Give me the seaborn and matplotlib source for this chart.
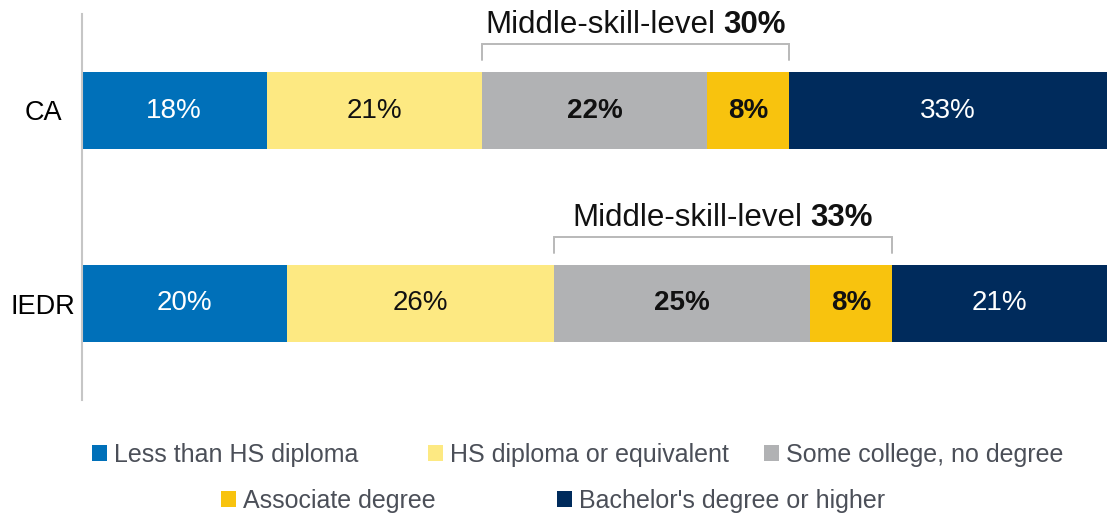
import matplotlib
matplotlib.use("Agg")
import matplotlib.pyplot as plt
from matplotlib.patches import Patch
import seaborn as sns
import pandas as pd
import numpy as np

# Educational attainment shares (percent) by region
regions = ["CA", "IEDR"]
levels = [
    "Less than HS diploma",
    "HS diploma or equivalent",
    "Some college, no degree",
    "Associate degree",
    "Bachelor's degree or higher",
]
ca_pct = [18, 21, 22, 8, 33]
iedr_pct = [20, 26, 25, 8, 21]
middle_skill_pct = [30, 33]

colors = ["#0070b9", "#fde982", "#b1b2b4", "#f8c30e", "#002b5c"]
label_colors = ["white", "#111111", "#111111", "#111111", "white"]
label_weights = ["normal", "normal", "bold", "bold", "normal"]

sns.set_theme(style="white")
plt.rcParams["font.family"] = ["Liberation Sans", "DejaVu Sans"]

W, H = 1107, 514
fig = plt.figure(figsize=(W / 100, H / 100), dpi=100)
ax = fig.add_axes([82 / W, 1 - 400 / H, 1 - 82 / W, (400 - 14) / H])

# long-form table with cumulative ends for stacking
rows = []
for reg, vals in zip(regions, [ca_pct, iedr_pct]):
    cum = np.cumsum(vals)
    for lvl, v, c in zip(levels, vals, cum):
        rows.append({"region": reg, "level": lvl, "pct": v, "end": c, "start": c - v})
df = pd.DataFrame(rows)

# stacked bars: draw cumulative totals from the last level back to the first
for i in range(len(levels) - 1, -1, -1):
    sub = df[df["level"] == levels[i]]
    sns.barplot(data=sub, x="end", y="region", order=regions, orient="h",
                color=colors[i], saturation=1, width=0.4, errorbar=None,
                linewidth=0, ax=ax)

XMAX = 100
ax.set_xlim(0, XMAX)
ax.set_ylim(1.5, -0.5)

# value labels centred in the visible part of each segment
for _, r in df.iterrows():
    yi = regions.index(r["region"])
    li = levels.index(r["level"])
    xc = (r["start"] + min(r["end"], XMAX)) / 2
    ax.text(xc, yi, f"{r['pct']}%", ha="center", va="center", fontsize=20,
            color=label_colors[li], fontweight=label_weights[li])

# middle-skill brackets over "some college" + "associate degree"
fig.canvas.draw()
px_per_unit = ax.get_window_extent().width / XMAX
for yi, (reg, vals) in enumerate(zip(regions, [ca_pct, iedr_pct])):
    x0 = vals[0] + vals[1]
    x1 = x0 + vals[2] + vals[3]
    top, arm = yi - 0.344, yi - 0.262
    ax.plot([x0, x0, x1, x1], [arm, top, top, arm], color="#b9b9b9", lw=1.4,
            clip_on=False, solid_joinstyle="miter")
    xc = (x0 + x1) / 2
    t1 = ax.text(xc, yi - 0.40, "Middle-skill-level", ha="left", va="baseline",
                 fontsize=22.5, color="#111111")
    t2 = ax.annotate(f"{middle_skill_pct[yi]}%", xy=(1, 0), xycoords=t1,
                     xytext=(6, 0), textcoords="offset points",
                     ha="left", va="bottom", fontsize=22.5, fontweight="bold",
                     color="#111111")
    fig.canvas.draw()
    r = fig.canvas.get_renderer()
    b1 = t1.get_window_extent(r)
    b2 = t2.get_window_extent(r)
    total_px = b2.x1 - b1.x0
    t1.set_x(xc - total_px / 2 / px_per_unit)

# axes styling
for s in ["top", "right", "bottom"]:
    ax.spines[s].set_visible(False)
ax.spines["left"].set_color("#c6c6c6")
ax.spines["left"].set_linewidth(1.5)
ax.set_xticks([])
ax.set_xlabel("")
ax.set_ylabel("")
ax.tick_params(axis="y", length=0, pad=28, labelsize=19.5, labelcolor="black")
for lab in ax.get_yticklabels():
    lab.set_horizontalalignment("center")

# legend: three items on the first row, two centred on the second
positions = [(92, 455), (428, 455), (764, 455), (221, 501), (557, 501)]
for lvl, c, (px, py) in zip(levels, colors, positions):
    fig.legend(handles=[Patch(facecolor=c, edgecolor="none")], labels=[lvl],
               loc="center left", bbox_to_anchor=(px / W, 1 - py / H),
               frameon=False, borderpad=0, borderaxespad=0,
               handlelength=0.58, handleheight=0.58, handletextpad=0.3,
               fontsize=18, labelcolor="#4b4f58")

fig.savefig("out.png", dpi=100)
